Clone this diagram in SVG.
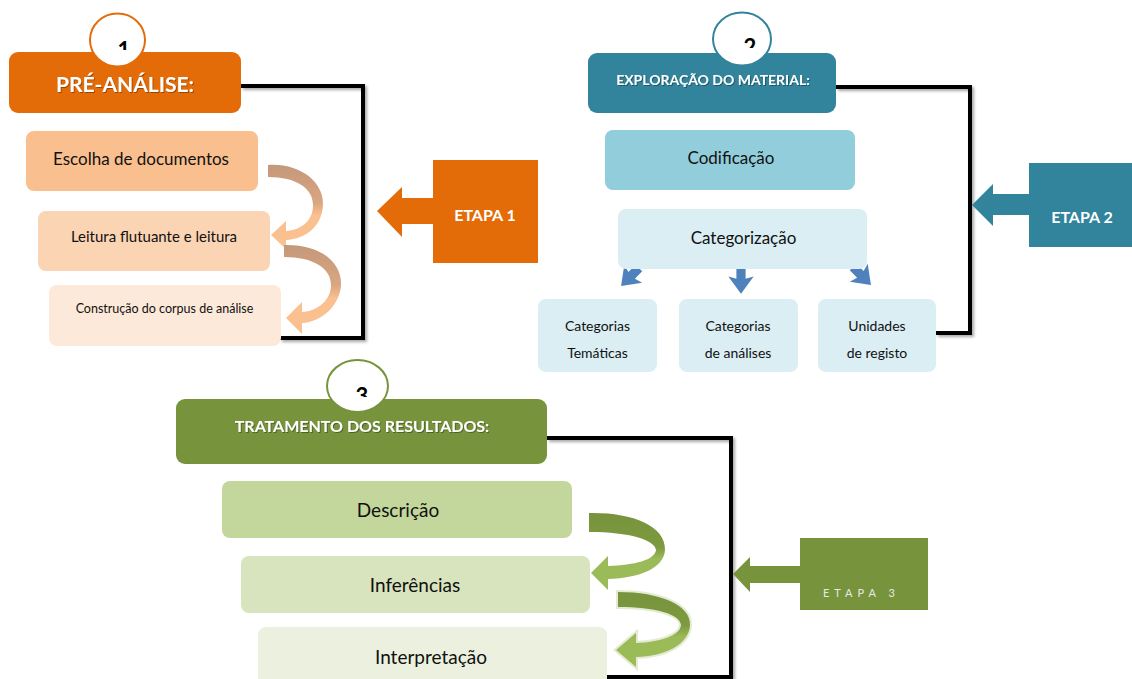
<svg xmlns="http://www.w3.org/2000/svg" width="1132" height="679" viewBox="0 0 1132 679">
<defs>
<style>
text{font-family:Lato,"Open Sans","Liberation Sans",sans-serif}
.hd{fill:#fff;font-weight:bold;text-anchor:middle}
.bx{fill:#111;text-anchor:middle}
.br{fill:none;stroke:#000;stroke-width:4;stroke-linejoin:miter}
.num{font-weight:bold;font-size:22px;fill:#000;text-anchor:middle}
.blue{fill:#4F81BD}
</style>
<filter id="sh" filterUnits="userSpaceOnUse" x="0" y="0" width="1132" height="679"><feDropShadow dx="2" dy="2" stdDeviation="1.5" flood-color="#000" flood-opacity="0.35"/></filter>
<filter id="ts" filterUnits="userSpaceOnUse" x="0" y="0" width="1132" height="679"><feDropShadow dx="1" dy="1" stdDeviation="0.6" flood-color="#000" flood-opacity="0.35"/></filter>
<linearGradient id="og" x1="0" y1="0" x2="0" y2="1"><stop offset="0" stop-color="#C4987A"/><stop offset="0.45" stop-color="#D9A681"/><stop offset="0.6" stop-color="#FAC08F"/><stop offset="1" stop-color="#FAC08F"/></linearGradient>
<linearGradient id="gg" x1="0" y1="0" x2="0" y2="1"><stop offset="0" stop-color="#77933C"/><stop offset="0.45" stop-color="#7D9A40"/><stop offset="0.6" stop-color="#9BBB59"/><stop offset="1" stop-color="#9BBB59"/></linearGradient>
<clipPath id="c1"><rect x="0" y="0" width="300" height="50"/></clipPath>
<clipPath id="c2"><rect x="600" y="0" width="300" height="48"/></clipPath>
<clipPath id="c3"><rect x="250" y="350" width="300" height="47"/></clipPath>
<clipPath id="cr"><rect x="818" y="299" width="118" height="65"/></clipPath>
</defs>

<g id="connectors">
<path class="br" filter="url(#sh)" d="M241 86 H363 V338 H280"/>
<path class="br" filter="url(#sh)" d="M836 87 H970 V333 H936"/>
<path class="br" filter="url(#sh)" d="M547 438 H731 V677 H607"/>
<path d="M268 165 C300 163 324 182 323 205 C322 226 306 239 286 240 L286 249 L271 235 L286 221 L286 231 C300 230 313 222 313 205 C313 188 296 177 268 177 Z" fill="url(#og)"/>
<path d="M284 245 C320 244 342 262 341 285 C340 305 322 322 302 323 L302 334 L286 318 L302 302 L302 312 C318 311 331 300 331 285 C331 268 313 257 284 257 Z" fill="url(#og)"/>
<path d="M589 513 C630 512 666 525 665 550 C664 568 640 578 608 579 L608 590 L591 573 L608 556 L608 566 C635 565 655 560 656 550 C655 540 630 532 589 532 Z" fill="url(#gg)"/>
<path d="M618 592 C660 592 691 605 690 625 C689 645 665 656 636 657 L636 667 L616 650 L636 633 L636 643 C660 642 680 636 681 625 C680 614 655 607 618 607 Z" fill="url(#gg)" stroke="#E3ECD3" stroke-width="4" paint-order="stroke"/>
<polygon class="blue" transform="translate(630 277) rotate(45) scale(1.15)" points="-4,-11 4,-11 4,-2 11,-4 0,11 -11,-4 -4,-2"/>
<polygon class="blue" transform="translate(741 281) scale(1.15)" points="-4,-11 4,-11 4,-2 11,-4 0,11 -11,-4 -4,-2"/>
<polygon class="blue" transform="translate(862 276) rotate(-45) scale(1.15)" points="-4,-11 4,-11 4,-2 11,-4 0,11 -11,-4 -4,-2"/>
</g>

<g id="pre-analise">
<rect x="9" y="52" width="232" height="61" rx="9" fill="#E36C09"/>
<text class="hd" x="125" y="92" font-size="21" filter="url(#ts)">PRÉ-ANÁLISE:</text>
<ellipse cx="117.5" cy="40" rx="27.5" ry="26.5" fill="#fff" stroke="#E36C09" stroke-width="2"/>
<text class="num" x="124" y="58" clip-path="url(#c1)">1</text>
</g>
<g id="escolha">
<rect x="26" y="131" width="232" height="60" rx="8" fill="#FABF8F"/>
<text class="bx" x="141" y="165" font-size="17">Escolha de documentos</text>
</g>
<g id="leitura">
<rect x="38" y="211" width="232" height="60" rx="8" fill="#FBD4B4"/>
<text class="bx" x="154" y="242" font-size="15">Leitura flutuante e leitura</text>
</g>
<g id="construcao">
<rect x="49" y="285" width="232" height="61" rx="8" fill="#FDE9D9"/>
<text class="bx" x="164.5" y="313" font-size="12.5">Construção do corpus de análise</text>
</g>
<g id="etapa1">
<rect x="433" y="160" width="105" height="103" fill="#E36C09"/>
<polygon points="434,198 402,198 402,187 377,211 402,237 402,224 434,224" fill="#E36C09"/>
<text class="hd" x="485" y="221" font-size="16">ETAPA 1</text>
</g>

<g id="exploracao">
<rect x="588" y="53" width="248" height="60" rx="9" fill="#31849B"/>
<text class="hd" x="713" y="85" font-size="14" filter="url(#ts)">EXPLORAÇÃO DO MATERIAL:</text>
<ellipse cx="742" cy="39" rx="29" ry="26.5" fill="#fff" stroke="#31849B" stroke-width="2"/>
<text class="num" x="750" y="55" clip-path="url(#c2)">2</text>
</g>
<g id="codificacao">
<rect x="605" y="130" width="250" height="60" rx="8" fill="#92CDDC"/>
<text class="bx" x="731" y="164" font-size="17">Codificação</text>
</g>
<g id="categorizacao">
<rect x="618" y="209" width="249" height="60" rx="8" fill="#DAEEF3"/>
<text class="bx" x="743.5" y="244" font-size="17">Categorização</text>
</g>
<g id="cat-tematicas">
<rect x="538" y="299" width="119" height="73" rx="8" fill="#DAEEF3"/>
<text class="bx" x="597.5" y="331" font-size="14">Categorias</text>
<text class="bx" x="597.5" y="358" font-size="14">Temáticas</text>
</g>
<g id="cat-analises">
<rect x="679" y="299" width="119" height="73" rx="8" fill="#DAEEF3"/>
<text class="bx" x="738" y="331" font-size="14">Categorias</text>
<text class="bx" x="738" y="358" font-size="14">de análises</text>
</g>
<g id="unidades">
<rect x="818" y="299" width="118" height="73" rx="8" fill="#DAEEF3"/>
<text class="bx" x="877" y="331" font-size="14">Unidades</text>
<text class="bx" x="877" y="358" font-size="14" clip-path="url(#cr)">de registo</text>
</g>
<g id="etapa2">
<rect x="1029" y="163" width="103" height="84" fill="#31849B"/>
<polygon points="1030,194 993,194 993,184 972,205 993,226 993,215 1030,215" fill="#31849B"/>
<text class="hd" x="1082" y="223" font-size="16">ETAPA 2</text>
</g>

<g id="tratamento">
<rect x="176" y="399" width="371" height="65" rx="9" fill="#77933C"/>
<text class="hd" x="362" y="432" font-size="16" filter="url(#ts)">TRATAMENTO DOS RESULTADOS:</text>
<ellipse cx="357.5" cy="386" rx="30.5" ry="26" fill="#fff" stroke="#77933C" stroke-width="2"/>
<text class="num" x="362" y="404" clip-path="url(#c3)">3</text>
</g>
<g id="descricao">
<rect x="222" y="481" width="350" height="57" rx="8" fill="#C3D69B"/>
<text class="bx" x="398" y="517" font-size="19">Descrição</text>
</g>
<g id="inferencias">
<rect x="241" y="556" width="349" height="57" rx="8" fill="#D7E4BD"/>
<text class="bx" x="415" y="592" font-size="19">Inferências</text>
</g>
<g id="interpretacao">
<rect x="258" y="627" width="349" height="62" rx="8" fill="#EBF1DE"/>
<text class="bx" x="431" y="664" font-size="19">Interpretação</text>
</g>
<g id="etapa3">
<rect x="800" y="538" width="128" height="72" fill="#77933C"/>
<polygon points="801,566 750,566 750,557 733,574 750,592 750,583 801,583" fill="#77933C"/>
<text x="823" y="597" font-size="11" fill="#E8E8E8" letter-spacing="5">ETAPA 3</text>
</g>
</svg>
